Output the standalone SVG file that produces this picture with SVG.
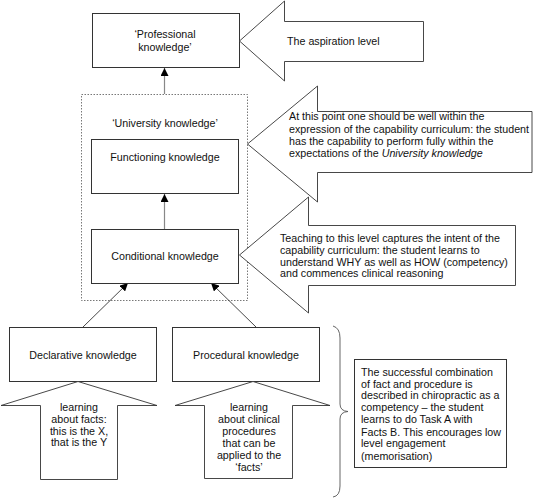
<svg xmlns="http://www.w3.org/2000/svg" width="533" height="498" viewBox="0 0 533 498">
<style>
text{font-family:"Liberation Sans",Arial,sans-serif;font-size:10.7px;fill:#111}
.c{text-anchor:middle}
.box{fill:#fff;stroke:#333;stroke-width:1}
.arr{fill:#fff;stroke:#333;stroke-width:0.9}
.conn{stroke:#888;stroke-width:1.2;fill:none}
.dconn{stroke:#333;stroke-width:0.9;fill:none}
</style>
<defs>
<marker id="ah" viewBox="0 0 10 10" refX="10" refY="5" markerWidth="8" markerHeight="8" markerUnits="userSpaceOnUse" orient="auto">
<path d="M0,0 L10,5 L0,10 z" fill="#000"/>
</marker>
</defs>
<rect width="533" height="498" fill="#fff"/>

<g id="university">
<rect x="81.5" y="94.5" width="166" height="206" fill="none" stroke="#555" stroke-width="0.8" stroke-dasharray="1.5,1.5"/>
<text class="c" x="165" y="127">‘University knowledge’</text>
</g>

<g id="connectors">
<line class="conn" x1="164.5" y1="94" x2="164.5" y2="68" marker-end="url(#ah)"/>
<line class="conn" x1="164.5" y1="229" x2="164.5" y2="194" marker-end="url(#ah)"/>
<line class="dconn" x1="83" y1="327" x2="128" y2="283" marker-end="url(#ah)"/>
<line class="dconn" x1="256" y1="327" x2="211" y2="283" marker-end="url(#ah)"/>
</g>

<g id="professional">
<rect class="box" x="92.5" y="13.5" width="147" height="54"/>
<text class="c" x="165" y="38">‘Professional</text>
<text class="c" x="165" y="51">knowledge’</text>
</g>

<g id="functioning">
<rect class="box" x="91.5" y="139.5" width="147" height="54"/>
<text class="c" x="165" y="161">Functioning knowledge</text>
</g>

<g id="conditional">
<rect class="box" x="91.5" y="229.5" width="147" height="54"/>
<text class="c" x="165" y="260">Conditional knowledge</text>
</g>

<g id="declarative">
<rect class="box" x="9.5" y="327.5" width="147" height="54"/>
<text class="c" x="83" y="359">Declarative knowledge</text>
</g>

<g id="procedural">
<rect class="box" x="172.5" y="327.5" width="147" height="54"/>
<text class="c" x="246" y="359">Procedural knowledge</text>
</g>

<g id="aspiration-arrow">
<path class="arr" d="M239.5,41 L284.5,1 L284.5,21.5 L423.5,21.5 L423.5,61.5 L284.5,61.5 L284.5,81 Z"/>
<text x="287" y="45">The aspiration level</text>
</g>

<g id="university-arrow">
<path class="arr" d="M247.5,144 L317.5,86 L317.5,111.5 L532,111.5 L532,172.5 L317.5,172.5 L317.5,202 Z"/>
<text x="289" y="120">At this point one should be well within the</text>
<text x="289" y="133">expression of the capability curriculum: the student</text>
<text x="289" y="145">has the capability to perform fully within the</text>
<text x="289" y="157">expectations of the <tspan font-style="italic">University knowledge</tspan></text>
</g>

<g id="conditional-arrow">
<path class="arr" d="M239.5,255 L308.5,197 L308.5,225.5 L515.5,225.5 L515.5,285.5 L308.5,285.5 L308.5,313 Z"/>
<text x="280" y="242">Teaching to this level captures the intent of the</text>
<text x="280" y="254">capability curriculum: the student learns to</text>
<text x="280" y="266">understand WHY as well as HOW (competency)</text>
<text x="280" y="277">and commences clinical reasoning</text>
</g>

<g id="facts-arrow">
<path class="arr" d="M78,381.5 L1,405.5 L40.5,405.5 L40.5,479.5 L117.5,479.5 L117.5,405.5 L157,405.5 Z"/>
<text class="c" x="79" y="411">learning</text>
<text class="c" x="79" y="423">about facts:</text>
<text class="c" x="79" y="435">this is the X,</text>
<text class="c" x="79" y="446">that is the Y</text>
</g>

<g id="procedures-arrow">
<path class="arr" d="M253,381.5 L175,405.5 L204.5,405.5 L204.5,478.5 L292.5,478.5 L292.5,405.5 L330,405.5 Z"/>
<text class="c" x="249" y="411">learning</text>
<text class="c" x="249" y="423">about clinical</text>
<text class="c" x="249" y="435">procedures</text>
<text class="c" x="249" y="447">that can be</text>
<text class="c" x="249" y="459">applied to the</text>
<text class="c" x="249" y="471">‘facts’</text>
</g>

<g id="brace">
<path d="M333,326 Q340,328 340,338 L340,404 Q340,411 348,411.5 Q340,412 340,419 L340,486 Q340,496 333,497" fill="none" stroke="#555" stroke-width="0.9"/>
</g>

<g id="competency-note">
<rect class="box" x="354.5" y="359.5" width="152" height="108"/>
<text x="361" y="376">The successful combination</text>
<text x="361" y="388">of fact and procedure is</text>
<text x="361" y="399">described in chiropractic as a</text>
<text x="361" y="411">competency – the student</text>
<text x="361" y="423">learns to do Task A with</text>
<text x="361" y="436">Facts B. This encourages low</text>
<text x="361" y="447">level engagement</text>
<text x="361" y="460">(memorisation)</text>
</g>
</svg>
